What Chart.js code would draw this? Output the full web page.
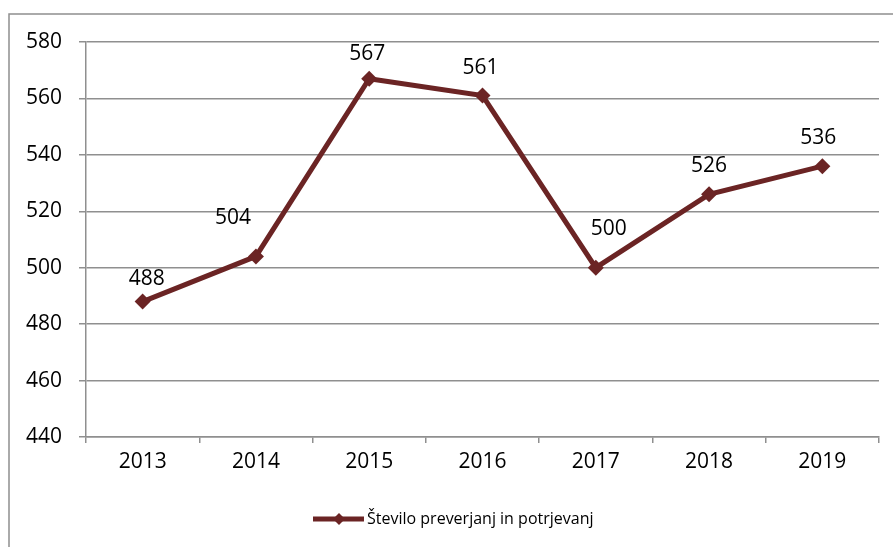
<!DOCTYPE html>
<html><head><meta charset="utf-8">
<script src="https://cdn.jsdelivr.net/npm/chart.js@4"></script>
<style>html,body{margin:0;padding:0;background:#fff}#wrap{width:893px;height:547px}</style>
</head><body><div id="wrap"><canvas id="c" width="893" height="547"></canvas></div>
<script>
const categories = ['2013','2014','2015','2016','2017','2018','2019'];
const seriesName = 'Število preverjanj in potrjevanj';
const values = [488, 504, 567, 561, 500, 526, 536];
const yTicks = [440, 460, 480, 500, 520, 540, 560, 580];

const LINE = '#6B2424';
const GRID = '#8f8f8f';
const FONT = '"Open Sans", sans-serif';

// label placement (pixels relative to each point)
const labelDX = [4, -23, -2, -2, 13, 0, -4];
const labelDY = [23, 38, 25, 28, 39, 28, 28];

const framePlugin = {
  id: 'frame',
  beforeDraw(chart) {
    const ctx = chart.ctx;
    ctx.save();
    ctx.fillStyle = '#fff';
    ctx.fillRect(0, 0, chart.width, chart.height);
    ctx.strokeStyle = GRID;
    ctx.lineWidth = 1.5;
    ctx.strokeRect(9, 14, chart.width + 10, chart.height + 10);
    ctx.restore();
  },
  afterDatasetsDraw(chart) {
    const ctx = chart.ctx;
    const meta = chart.getDatasetMeta(0);
    ctx.save();
    ctx.fillStyle = '#000';
    ctx.font = '21px ' + FONT;
    ctx.textAlign = 'center';
    ctx.textBaseline = 'middle';
    meta.data.forEach((pt, i) => {
      ctx.fillText(String(chart.data.datasets[0].data[i]), pt.x + labelDX[i], pt.y - labelDY[i]);
    });
    // legend
    const cy = 519, x0 = 313, x1 = 364;
    ctx.strokeStyle = LINE;
    ctx.lineWidth = 5;
    ctx.beginPath(); ctx.moveTo(x0, cy); ctx.lineTo(x1, cy); ctx.stroke();
    ctx.fillStyle = LINE;
    ctx.beginPath();
    ctx.moveTo(339, cy - 6); ctx.lineTo(345, cy); ctx.lineTo(339, cy + 6); ctx.lineTo(333, cy);
    ctx.closePath(); ctx.fill();
    ctx.fillStyle = '#000';
    ctx.font = '16px ' + FONT;
    ctx.textAlign = 'left';
    ctx.fillText(chart.data.datasets[0].label, 367, cy);
    ctx.restore();
  }
};

new Chart(document.getElementById('c'), {
  type: 'line',
  data: {
    labels: categories,
    datasets: [{
      label: seriesName,
      data: values,
      borderColor: LINE,
      backgroundColor: LINE,
      borderWidth: 5,
      pointStyle: 'rectRot',
      pointRadius: 8,
      pointHoverRadius: 8,
      pointBackgroundColor: LINE,
      pointBorderColor: LINE,
      pointBorderWidth: 0,
      tension: 0,
      fill: false
    }]
  },
  options: {
    responsive: false,
    animation: false,
    devicePixelRatio: 1,
    layout: { padding: { left: 0, top: 42, right: 14, bottom: 60 } },
    plugins: { legend: { display: false }, tooltip: { enabled: false } },
    scales: {
      x: {
        offset: true,
        afterFit(s) { s.height = 50; },
        grid: { display: true, drawOnChartArea: false, offset: true, tickLength: 6, color: GRID, lineWidth: 1.5 },
        border: { display: true, color: GRID, width: 1.5 },
        ticks: { color: '#000', font: { family: FONT, size: 21 }, padding: 6, maxRotation: 0 }
      },
      y: {
        min: 440, max: 580,
        afterFit(s) { s.width = 86; },
        afterBuildTicks(s) { s.ticks = yTicks.map(v => ({ value: v })); },
        grid: { color: GRID, lineWidth: 1.5, tickLength: 7 },
        border: { display: true, color: GRID, width: 1.5 },
        ticks: { color: '#000', font: { family: FONT, size: 21 }, padding: 17 }
      }
    }
  },
  plugins: [framePlugin]
});
</script>
</body></html>
